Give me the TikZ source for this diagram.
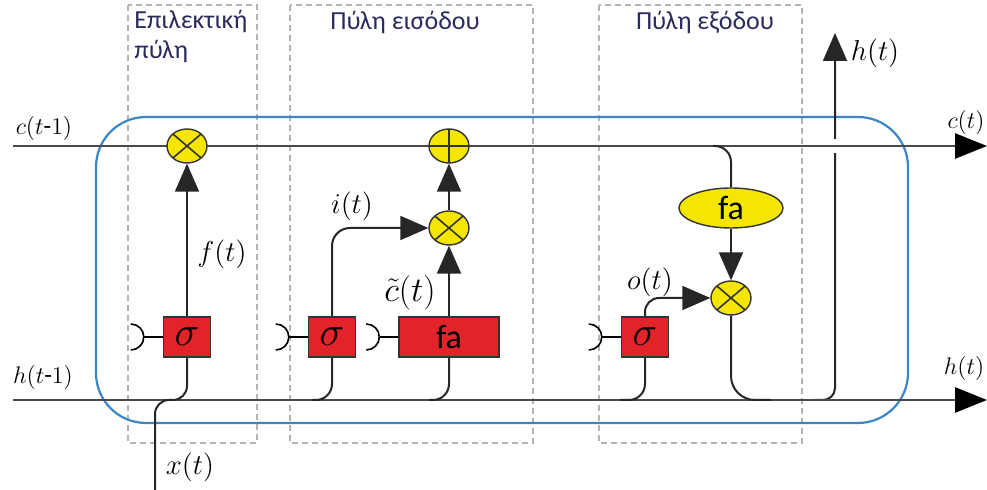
\documentclass[tikz,border=0pt]{standalone}
\usepackage{fontspec}
\setmainfont{Carlito}
\usetikzlibrary{arrows.meta, positioning, shapes.geometric, calc, backgrounds}
\definecolor{gateRed}{HTML}{E3232A}
\definecolor{opYellow}{HTML}{F4E600}
\definecolor{cellBlue}{HTML}{3B86C7}
\definecolor{frameGrey}{HTML}{B4B4B4}
\definecolor{lineGrey}{HTML}{4A4A4A}
\definecolor{textNavy}{HTML}{2A2A5C}

\tikzset{
  sigbox/.style={draw=black!80, line width=0.7pt, fill=gateRed, minimum width=23.5pt,
    minimum height=20pt, inner sep=0pt, font=\fontsize{22}{22}\selectfont},
  opbase/.style={ellipse, draw=black!80, line width=0.7pt, fill=opYellow,
    minimum width=20pt, minimum height=17pt, inner sep=0pt},
  mulop/.style={opbase, path picture={\draw[line width=0.8pt]
    (path picture bounding box.north west) -- (path picture bounding box.south east)
    (path picture bounding box.south west) -- (path picture bounding box.north east);}},
  addop/.style={opbase, path picture={\draw[line width=0.8pt]
    (path picture bounding box.north) -- (path picture bounding box.south)
    (path picture bounding box.west) -- (path picture bounding box.east);}},
  wire/.style={line width=1pt, draw=black!85},
  flow/.style={wire, -{Triangle[length=14pt, width=12pt]}},
  railline/.style={line width=1.4pt, draw=lineGrey, -{Triangle[length=16pt, width=12.5pt, color=black]}},
  gatebox/.style={draw=frameGrey, line width=1.3pt, dash pattern=on 3pt off 2pt},
  lbl/.style={font=\fontsize{13.5}{15}\selectfont, inner sep=1pt},
  edgelbl/.style={font=\fontsize{12.5}{14}\selectfont, inner sep=1pt},
  gatetitle/.style={text=textNavy, font=\fontsize{13}{15}\selectfont, inner sep=0pt},
}

\begin{document}
\begin{tikzpicture}[x=0.5pt, y=-0.5pt]
  \useasboundingbox (0,0) rectangle (987,490);

  % operators on the cell state
  \node[mulop] (fmul) at (187,146) {};
  \node[addop] (add) at (449,146) {};
  \node[mulop] (imul) at (449,228) {};
  \node[mulop] (omul) at (731,298) {};

  % gate layers
  \node[sigbox] (fsig) at (187,337) {$\sigma$};
  \node[sigbox] (isig) at (332,337) {$\sigma$};
  \node[sigbox, minimum width=50pt, font=\fontsize{17}{17}\selectfont] (cand) at (449,337) {fa};
  \node[sigbox] (osig) at (645,337) {$\sigma$};
  \node[opbase, minimum width=52pt, minimum height=20pt, font=\fontsize{17}{17}\selectfont] (fael) at (731,208) {fa};

  \coordinate (cin) at (13,146);
  \coordinate (cout) at (987,146);
  \coordinate (hin) at (13,400);
  \coordinate (hout) at (987,400);
  \coordinate (xin) at (155,490);
  \coordinate (htop) at (835,33);

  % gate titles
  \node[gatetitle, anchor=north west, align=left] (ftitle) at (134,10) {Επιλεκτική\\πύλη};
  \node[gatetitle] (ititle) at (405,22) {Πύλη εισόδου};
  \node[gatetitle] (otitle) at (705,22) {Πύλη εξόδου};

  % signal labels
  \node[edgelbl] (clast) at (44,129) {$c(t\mbox{-}1)$};
  \node[edgelbl] (hlast) at (43,378) {$h(t\mbox{-}1)$};
  \node[edgelbl] (cnext) at (966,123) {$c(t)$};
  \node[edgelbl] (hnext) at (964,369) {$h(t)$};
  \node[lbl] (hup) at (875,53) {$h(t)$};
  \node[lbl] (flab) at (222,254) {$f(t)$};
  \node[lbl] (ilab) at (352,206) {$i(t)$};
  \node[lbl] (olab) at (650,282) {$o(t)$};
  \node[lbl] (xlab) at (190,467) {$x(t)$};
  \node[font=\fontsize{16}{17}\selectfont, inner sep=0pt] (clab) at (410,293) {$\tilde{c}(t)$};

  \begin{scope}[on background layer]
    \draw[gatebox] (128,5) rectangle (257,443);
    \draw[gatebox] (290,5) rectangle (533,443);
    \draw[gatebox] (599,5) rectangle (802,443);
    \draw[cellBlue, line width=1.1pt, rounded corners=25pt] (96,117) rectangle (908,423);
    \draw[flow, rounded corners=6pt] ($(htop |- hin)+(-22,0)$) -| (htop);
    \fill[white] ($(htop |- cin)+(-5,-7)$) rectangle ($(htop |- cin)+(5,7)$);
    \draw[railline] (cin) -- (cout);
    \draw[railline] (hin) -- (hout);
  \end{scope}

  % inputs of the gates
  \foreach \g in {fsig, isig, cand, osig}
    \draw[line width=0.8pt] (\g.west) -- ++(-9.5pt,0) arc[start angle=0, end angle=90, radius=6.5pt]
      (\g.west) ++(-9.5pt,0) arc[start angle=0, end angle=-90, radius=6.5pt];
  \draw[wire, rounded corners=7pt] (xin) |- (fsig.south |- hin) -- (fsig.south);
  \foreach \g/\d in {isig/-20, cand/-20, osig/-25}
    \draw[wire, rounded corners=8pt] (\g.south) |- ($(\g.south |- hin)+(\d,0)$);

  % gate outputs
  \draw[flow] (fsig) -- (fmul);
  \draw[flow, rounded corners=9pt] (isig.north) |- (imul);
  \draw[flow] (cand) -- (imul);
  \draw[flow] (imul) -- (add);
  \draw[wire, rounded corners=8pt] ($(fael.north |- cin)+(-18,0)$) -| (fael.north);
  \draw[flow] (fael) -- (omul);
  \draw[flow, rounded corners=7pt] (osig.north) |- (omul);
  \draw[wire, rounded corners=12pt] (omul) |- ($(omul |- hin)+(40,0)$);
\end{tikzpicture}
\end{document}
